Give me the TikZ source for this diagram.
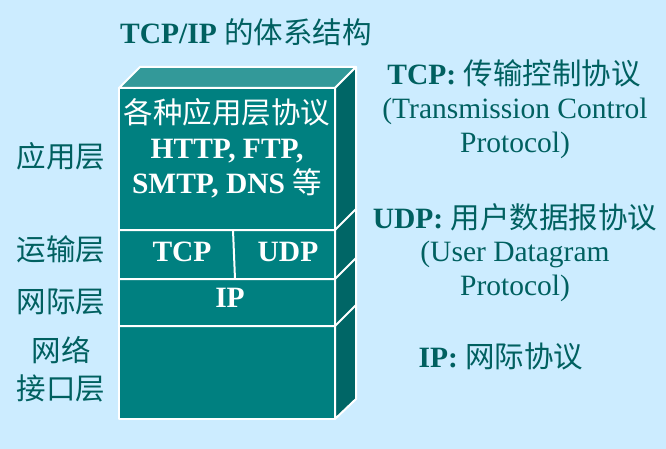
\documentclass[tikz,border=0pt]{standalone}
\usepackage{fontspec}
\setmainfont{Liberation Serif}
\newfontfamily\cjk{Noto Sans CJK SC}
\definecolor{bgblue}{RGB}{204,236,255}
\definecolor{tealfront}{RGB}{0,128,128}
\definecolor{tealtop}{RGB}{51,153,153}
\definecolor{tealside}{RGB}{0,102,102}
\definecolor{labeltext}{RGB}{0,96,96}
\tikzset{
big/.style={font=\fontsize{29.5}{35}\selectfont, inner sep=0pt},
lbl/.style={big, text=labeltext, align=center},
boxtext/.style={big, text=white, align=center},
edge/.style={draw=white, line width=2pt, line join=round}}

\begin{document}
\begin{tikzpicture}[x=1pt,y=1pt,yscale=-1]
%background, sets the size of the picture
\fill[bgblue] (0,0) rectangle (666,449);
\useasboundingbox (0,0) rectangle (666,449);

%Shape: top face
\filldraw[fill=tealtop, edge] (119,88) -- (140,67) -- (356,67) -- (335,88) -- cycle;
%Shape: side face
\filldraw[fill=tealside, edge] (335,88) -- (356,67) -- (356,399) -- (335,419) -- cycle;
%Shape: front face
\filldraw[fill=tealfront, edge] (119,88) rectangle (335,419);
%layer boundaries, front and side
\foreach \y in {230,279,326}
  \draw[edge] (119,\y) -- (335,\y) -- (356,\y-21);
%TCP | UDP
\draw[edge] (233,230) -- (235,279);

% Text Node
\node[lbl] (title) at (246,32) {{\bfseries TCP/IP} {\cjk 的体系结构}};
% Text Node
\node[lbl] (applayer) at (61,156) {\cjk 应用层};
% Text Node
\node[lbl] (translayer) at (61,249) {\cjk 运输层};
% Text Node
\node[lbl] (netlayer) at (61,302) {\cjk 网际层};
% Text Node
\node[lbl, font=\fontsize{29.5}{38}\selectfont] (linklayer) at (61,369) {{\cjk 网络}\\{\cjk 接口层}};
% Text Node
\node[boxtext] (apps) at (227,148) {{\cjk 各种应用层协议}\\{\bfseries HTTP, FTP,}\\{\bfseries SMTP, DNS} {\cjk 等}};
% Text Node
\node[boxtext, font=\fontsize{29.5}{35}\bfseries] (tcp) at (182,252) {TCP};
% Text Node
\node[boxtext, font=\fontsize{29.5}{35}\bfseries] (udp) at (288,252) {UDP};
% Text Node
\node[boxtext, font=\fontsize{29.5}{35}\bfseries] (ip) at (230,298) {IP};
% Text Node
\node[lbl] (tcpname) at (514,73) {{\bfseries TCP:} {\cjk 传输控制协议}};
% Text Node
\node[lbl, font=\fontsize{29.5}{34}\selectfont] (tcpfull) at (515,128) {(Transmission Control\\Protocol)};
% Text Node
\node[lbl] (udpname) at (515,217) {{\bfseries UDP:} {\cjk 用户数据报协议}};
% Text Node
\node[lbl, font=\fontsize{29.5}{34}\selectfont] (udpfull) at (515,271) {(User Datagram\\Protocol)};
% Text Node
\node[lbl] (ipname) at (501,356) {{\bfseries IP:} {\cjk 网际协议}};

\end{tikzpicture}
\end{document}
